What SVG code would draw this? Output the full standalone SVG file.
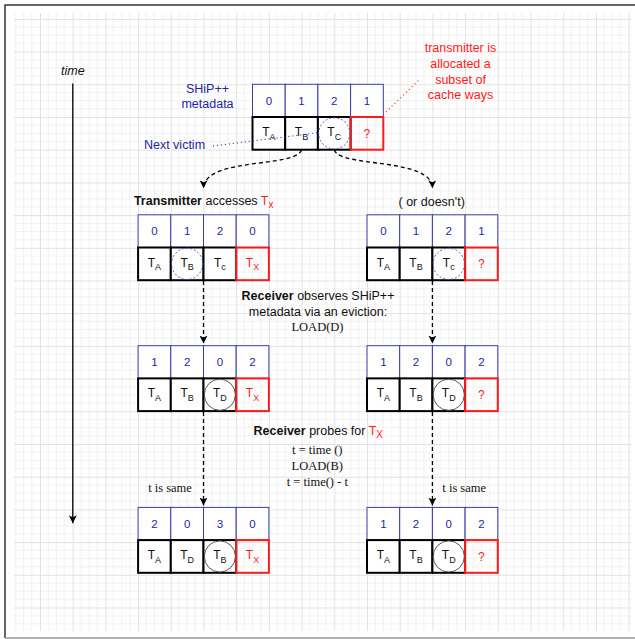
<svg xmlns="http://www.w3.org/2000/svg" width="635" height="639" viewBox="0 0 635 639">
<style>
.lbl{font-family:"Liberation Sans",Arial,Helvetica,sans-serif;font-size:12.5px;fill:#111}
.ser{font-family:"Liberation Serif","Times New Roman",serif;font-size:12.5px;fill:#111;text-anchor:middle}
.num{font-family:"Liberation Sans",Arial,Helvetica,sans-serif;font-size:11.5px;fill:#1f1f9e;text-anchor:middle}
.t{font-family:"Liberation Sans",Arial,Helvetica,sans-serif;font-size:12px;fill:#111;text-anchor:middle}
.sub{font-size:9px}
.lsub{font-size:10px}
.nv{fill:#2424a0}
.red{fill:#ff1a1a}
.meta{fill:#fff;stroke:#3a3aa8;stroke-width:1}
.way{fill:#fff;stroke:#000;stroke-width:2}
.wayr{fill:none;stroke:#ff1a1a;stroke-width:2}
.vic{fill:none;stroke:#5555c4;stroke-width:1;stroke-dasharray:2 2}
.ld{fill:none;stroke:#555;stroke-width:1}
.dash{fill:none;stroke:#000;stroke-width:1.3;stroke-dasharray:4 3}
</style>
<defs>
<pattern id="grid" x="40" y="84.3" width="32.7" height="32.7" patternUnits="userSpaceOnUse">
<path d="M8.175 0V32.7M16.35 0V32.7M24.525 0V32.7M0 8.175H32.7M0 16.35H32.7M0 24.525H32.7" stroke="#f1f1f1" stroke-width="1"/>
<path d="M0.5 0V32.7M0 0.5H32.7" stroke="#e2e2e2" stroke-width="1"/>
</pattern>
<marker id="arr" viewBox="0 0 10 10" refX="10" refY="5" markerWidth="8" markerHeight="8" markerUnits="userSpaceOnUse" orient="auto">
<path d="M0,0 L10,5 L0,10 L2.5,5 Z" fill="#000"/>
</marker>
</defs>
<rect x="0" y="0" width="635" height="639" fill="#fff"/>
<rect x="14" y="13" width="617" height="618" fill="url(#grid)"/>
<path d="M5,638 V5 H640" fill="none" stroke="#333" stroke-width="1.5"/>
<path d="M5,638 H640" fill="none" stroke="#999" stroke-width="1.5"/>

<g id="time-axis">
<text class="lbl" x="72.8" y="75" text-anchor="middle" font-style="italic">time</text>
<line x1="72.8" y1="83.5" x2="72.8" y2="523.3" stroke="#000" stroke-width="1.3" marker-end="url(#arr)"/>
</g>

<g id="labels-top">
<text class="lbl nv" x="207.5" y="93" text-anchor="middle">SHiP++</text>
<text class="lbl nv" x="207.5" y="108" text-anchor="middle">metadata</text>
<text class="lbl nv" x="174.5" y="149" text-anchor="middle">Next victim</text>
<text class="lbl red" x="460.5" y="52.3" text-anchor="middle">transmitter is</text>
<text class="lbl red" x="460.5" y="68" text-anchor="middle">allocated a</text>
<text class="lbl red" x="460.5" y="83.7" text-anchor="middle">subset of</text>
<text class="lbl red" x="460.5" y="99.4" text-anchor="middle">cache ways</text>
</g>

<g id="table-top">
<rect class="meta" x="252.5" y="84.3" width="32.7" height="32.7"/>
<rect class="meta" x="285.2" y="84.3" width="32.7" height="32.7"/>
<rect class="meta" x="317.9" y="84.3" width="32.7" height="32.7"/>
<rect class="meta" x="350.6" y="84.3" width="32.7" height="32.7"/>
<text class="num" x="268.85" y="104.8">0</text>
<text class="num" x="301.55" y="104.8">1</text>
<text class="num" x="334.25" y="104.8">2</text>
<text class="num" x="366.95" y="104.8">1</text>
<rect class="way" x="252.5" y="117" width="32.7" height="32.7"/>
<rect class="way" x="285.2" y="117" width="32.7" height="32.7"/>
<rect class="way" x="317.9" y="117" width="32.7" height="32.7"/>
<rect class="wayr" x="350.6" y="117" width="32.7" height="32.7"/>
<circle class="vic" cx="334.25" cy="133.35" r="15.6"/>
<text class="t" x="268.85" y="136">T<tspan class="sub" dy="3.5">A</tspan></text>
<text class="t" x="301.55" y="136">T<tspan class="sub" dy="3.5">B</tspan></text>
<text class="t" x="334.25" y="136">T<tspan class="sub" dy="3.5">C</tspan></text>
<text class="t red" x="366.95" y="137.5">?</text>
</g>

<g id="label-transmitter">
<text class="lbl" x="203.7" y="205" text-anchor="middle"><tspan font-weight="bold">Transmitter</tspan> accesses <tspan class="red">T</tspan><tspan class="red lsub" dy="3">x</tspan></text>
</g>
<g id="label-doesnt">
<text class="lbl" x="431.7" y="206" text-anchor="middle">( or doesn't)</text>
</g>

<g id="table-left-2">
<rect class="meta" x="138.1" y="214.8" width="32.7" height="32.7"/>
<rect class="meta" x="170.8" y="214.8" width="32.7" height="32.7"/>
<rect class="meta" x="203.5" y="214.8" width="32.7" height="32.7"/>
<rect class="meta" x="236.2" y="214.8" width="32.7" height="32.7"/>
<text class="num" x="154.45" y="235.3">0</text>
<text class="num" x="187.15" y="235.3">1</text>
<text class="num" x="219.85" y="235.3">2</text>
<text class="num" x="252.55" y="235.3">0</text>
<rect class="way" x="138.1" y="247.5" width="32.7" height="32.7"/>
<rect class="way" x="170.8" y="247.5" width="32.7" height="32.7"/>
<rect class="way" x="203.5" y="247.5" width="32.7" height="32.7"/>
<rect class="wayr" x="236.2" y="247.5" width="32.7" height="32.7"/>
<circle class="vic" cx="187.15" cy="263.85" r="15.6"/>
<text class="t" x="154.45" y="266.5">T<tspan class="sub" dy="3.5">A</tspan></text>
<text class="t" x="187.15" y="266.5">T<tspan class="sub" dy="3.5">B</tspan></text>
<text class="t" x="219.85" y="266.5">T<tspan class="sub" dy="3.5">c</tspan></text>
<text class="t red" x="252.55" y="266.5">T<tspan class="sub" dy="3.5">X</tspan></text>
</g>

<g id="table-right-2">
<rect class="meta" x="367" y="214.8" width="32.7" height="32.7"/>
<rect class="meta" x="399.7" y="214.8" width="32.7" height="32.7"/>
<rect class="meta" x="432.4" y="214.8" width="32.7" height="32.7"/>
<rect class="meta" x="465.1" y="214.8" width="32.7" height="32.7"/>
<text class="num" x="383.35" y="235.3">0</text>
<text class="num" x="416.05" y="235.3">1</text>
<text class="num" x="448.75" y="235.3">2</text>
<text class="num" x="481.45" y="235.3">1</text>
<rect class="way" x="367" y="247.5" width="32.7" height="32.7"/>
<rect class="way" x="399.7" y="247.5" width="32.7" height="32.7"/>
<rect class="way" x="432.4" y="247.5" width="32.7" height="32.7"/>
<rect class="wayr" x="465.1" y="247.5" width="32.7" height="32.7"/>
<circle class="vic" cx="448.75" cy="263.85" r="15.6"/>
<text class="t" x="383.35" y="266.5">T<tspan class="sub" dy="3.5">A</tspan></text>
<text class="t" x="416.05" y="266.5">T<tspan class="sub" dy="3.5">B</tspan></text>
<text class="t" x="448.75" y="266.5">T<tspan class="sub" dy="3.5">c</tspan></text>
<text class="t red" x="481.45" y="268">?</text>
</g>

<g id="label-observe">
<text class="lbl" x="318" y="300" text-anchor="middle"><tspan font-weight="bold">Receiver</tspan> observes SHiP++</text>
<text class="lbl" x="318" y="315.5" text-anchor="middle">metadata via an eviction:</text>
<text class="ser" x="317.5" y="331">LOAD(D)</text>
</g>

<g id="table-left-3">
<rect class="meta" x="138.1" y="345.7" width="32.7" height="32.7"/>
<rect class="meta" x="170.8" y="345.7" width="32.7" height="32.7"/>
<rect class="meta" x="203.5" y="345.7" width="32.7" height="32.7"/>
<rect class="meta" x="236.2" y="345.7" width="32.7" height="32.7"/>
<text class="num" x="154.45" y="366.2">1</text>
<text class="num" x="187.15" y="366.2">2</text>
<text class="num" x="219.85" y="366.2">0</text>
<text class="num" x="252.55" y="366.2">2</text>
<rect class="way" x="138.1" y="378.4" width="32.7" height="32.7"/>
<rect class="way" x="170.8" y="378.4" width="32.7" height="32.7"/>
<rect class="way" x="203.5" y="378.4" width="32.7" height="32.7"/>
<rect class="wayr" x="236.2" y="378.4" width="32.7" height="32.7"/>
<circle class="ld" cx="219.85" cy="394.75" r="15.6"/>
<text class="t" x="154.45" y="397.4">T<tspan class="sub" dy="3.5">A</tspan></text>
<text class="t" x="187.15" y="397.4">T<tspan class="sub" dy="3.5">B</tspan></text>
<text class="t" x="219.85" y="397.4">T<tspan class="sub" dy="3.5">D</tspan></text>
<text class="t red" x="252.55" y="397.4">T<tspan class="sub" dy="3.5">X</tspan></text>
</g>

<g id="table-right-3">
<rect class="meta" x="367" y="345.7" width="32.7" height="32.7"/>
<rect class="meta" x="399.7" y="345.7" width="32.7" height="32.7"/>
<rect class="meta" x="432.4" y="345.7" width="32.7" height="32.7"/>
<rect class="meta" x="465.1" y="345.7" width="32.7" height="32.7"/>
<text class="num" x="383.35" y="366.2">1</text>
<text class="num" x="416.05" y="366.2">2</text>
<text class="num" x="448.75" y="366.2">0</text>
<text class="num" x="481.45" y="366.2">2</text>
<rect class="way" x="367" y="378.4" width="32.7" height="32.7"/>
<rect class="way" x="399.7" y="378.4" width="32.7" height="32.7"/>
<rect class="way" x="432.4" y="378.4" width="32.7" height="32.7"/>
<rect class="wayr" x="465.1" y="378.4" width="32.7" height="32.7"/>
<circle class="ld" cx="448.75" cy="394.75" r="15.6"/>
<text class="t" x="383.35" y="397.4">T<tspan class="sub" dy="3.5">A</tspan></text>
<text class="t" x="416.05" y="397.4">T<tspan class="sub" dy="3.5">B</tspan></text>
<text class="t" x="448.75" y="397.4">T<tspan class="sub" dy="3.5">D</tspan></text>
<text class="t red" x="481.45" y="398.9">?</text>
</g>

<g id="label-probe">
<text class="lbl" x="318.3" y="435" text-anchor="middle"><tspan font-weight="bold">Receiver</tspan> probes for <tspan class="red">T</tspan><tspan class="red lsub" dy="3">X</tspan></text>
<text class="ser" x="317.3" y="454">t = time ()</text>
<text class="ser" x="317.3" y="470">LOAD(B)</text>
<text class="ser" x="317.3" y="485.5">t = time() - t</text>
</g>
<g id="label-same-left">
<text class="ser" x="170" y="492">t is same</text>
</g>
<g id="label-same-right">
<text class="ser" x="464.2" y="492">t is same</text>
</g>

<g id="table-left-4">
<rect class="meta" x="138.1" y="507.4" width="32.7" height="32.7"/>
<rect class="meta" x="170.8" y="507.4" width="32.7" height="32.7"/>
<rect class="meta" x="203.5" y="507.4" width="32.7" height="32.7"/>
<rect class="meta" x="236.2" y="507.4" width="32.7" height="32.7"/>
<text class="num" x="154.45" y="527.9">2</text>
<text class="num" x="187.15" y="527.9">0</text>
<text class="num" x="219.85" y="527.9">3</text>
<text class="num" x="252.55" y="527.9">0</text>
<rect class="way" x="138.1" y="540.1" width="32.7" height="32.7"/>
<rect class="way" x="170.8" y="540.1" width="32.7" height="32.7"/>
<rect class="way" x="203.5" y="540.1" width="32.7" height="32.7"/>
<rect class="wayr" x="236.2" y="540.1" width="32.7" height="32.7"/>
<circle class="ld" cx="219.85" cy="556.45" r="15.6"/>
<text class="t" x="154.45" y="559.1">T<tspan class="sub" dy="3.5">A</tspan></text>
<text class="t" x="187.15" y="559.1">T<tspan class="sub" dy="3.5">D</tspan></text>
<text class="t" x="219.85" y="559.1">T<tspan class="sub" dy="3.5">B</tspan></text>
<text class="t red" x="252.55" y="559.1">T<tspan class="sub" dy="3.5">X</tspan></text>
</g>

<g id="table-right-4">
<rect class="meta" x="367" y="507.4" width="32.7" height="32.7"/>
<rect class="meta" x="399.7" y="507.4" width="32.7" height="32.7"/>
<rect class="meta" x="432.4" y="507.4" width="32.7" height="32.7"/>
<rect class="meta" x="465.1" y="507.4" width="32.7" height="32.7"/>
<text class="num" x="383.35" y="527.9">1</text>
<text class="num" x="416.05" y="527.9">2</text>
<text class="num" x="448.75" y="527.9">0</text>
<text class="num" x="481.45" y="527.9">2</text>
<rect class="way" x="367" y="540.1" width="32.7" height="32.7"/>
<rect class="way" x="399.7" y="540.1" width="32.7" height="32.7"/>
<rect class="way" x="432.4" y="540.1" width="32.7" height="32.7"/>
<rect class="wayr" x="465.1" y="540.1" width="32.7" height="32.7"/>
<circle class="ld" cx="448.75" cy="556.45" r="15.6"/>
<text class="t" x="383.35" y="559.1">T<tspan class="sub" dy="3.5">A</tspan></text>
<text class="t" x="416.05" y="559.1">T<tspan class="sub" dy="3.5">B</tspan></text>
<text class="t" x="448.75" y="559.1">T<tspan class="sub" dy="3.5">D</tspan></text>
<text class="t red" x="481.45" y="560.6">?</text>
</g>

<g id="connectors">
<path d="M213,146 L320,132.5" fill="none" stroke="#2a2aa8" stroke-width="1.2" stroke-dasharray="1 3"/>
<path d="M386,112 L420,79" fill="none" stroke="#ff1a1a" stroke-width="1.2" stroke-dasharray="1 3"/>
<path class="dash" d="M301.55,150 C296,168 204,157 203.5,188.3" marker-end="url(#arr)"/>
<path class="dash" d="M334.25,150 C340,168 432,157 432.4,188.3" marker-end="url(#arr)"/>
<path class="dash" d="M203.5,281 V343.5" marker-end="url(#arr)"/>
<path class="dash" d="M432.4,281 V343.5" marker-end="url(#arr)"/>
<path class="dash" d="M203.5,412 V505.5" marker-end="url(#arr)"/>
<path class="dash" d="M432.4,412 V505.5" marker-end="url(#arr)"/>
</g>
</svg>
